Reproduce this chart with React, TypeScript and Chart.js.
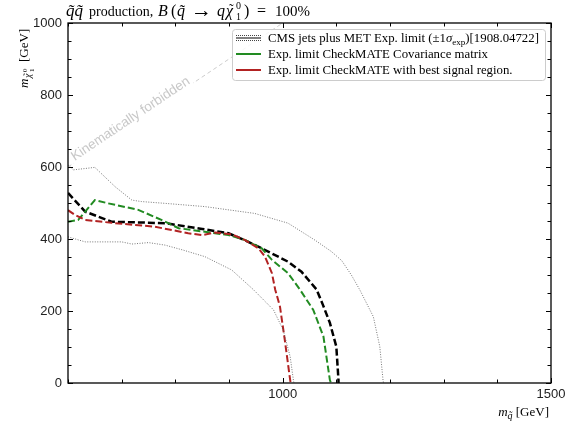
import React, { useEffect, useRef } from "react";
import { Chart, registerables } from "chart.js";

Chart.register(...registerables);

// ---- data (GeV) ----
const expX = [600, 632, 681, 781, 850, 899, 936, 961, 1010, 1035, 1063, 1075, 1088, 1100, 1104, 1104];
const expY = [528, 476, 448, 444, 428, 416, 392, 374, 337, 309, 260, 217, 167, 101, 8, 0];

const upX = [600, 610, 650, 688, 719, 737, 781, 855, 948, 1010, 1060, 1091, 1110, 1128, 1144, 1169, 1181, 1187, 1188];
const upY = [606, 592, 599, 545, 508, 504, 499, 490, 471, 444, 397, 365, 340, 300, 258, 184, 101, 8, 0];

const downX = [600, 632, 700, 719, 750, 781, 815, 855, 905, 945, 983, 1001, 1014, 1020, 1021];
const downY = [406, 392, 392, 386, 390, 383, 369, 351, 314, 260, 203, 147, 73, 8, 0];

const covX = [600, 619, 650, 675, 731, 774, 806, 855, 899, 930, 961, 980, 1010, 1032, 1057, 1076, 1088, 1090];
const covY = [448, 453, 508, 499, 481, 453, 430, 420, 411, 397, 374, 342, 305, 260, 203, 129, 8, 0];

const bestX = [600, 613, 632, 681, 762, 824, 850, 875, 905, 930, 955, 967, 980, 986, 995, 1004, 1014, 1015];
const bestY = [480, 467, 453, 445, 434, 416, 411, 418, 413, 397, 374, 351, 305, 260, 212, 119, 8, 0];

const kinX = [600, 1000];
const kinY = [600, 1000];

const xTickLabels = [1000, 1500];
const yTickLabels = [0, 200, 400, 600, 800, 1000];
const xMinorTicks = [600, 700, 800, 900, 1000, 1100, 1200, 1300, 1400, 1500];
const yMinorTicks = [0, 50, 100, 150, 200, 250, 300, 350, 400, 450, 500, 550, 600, 650, 700, 750, 800, 850, 900, 950, 1000];

const legendCms = "CMS jets plus MET Exp. limit (±1";
const legendCov = "Exp. limit CheckMATE Covariance matrix";
const legendBest = "Exp. limit CheckMATE with best signal region.";
const kinText = "Kinematically forbidden";

const SERIF = '"Liberation Serif", "Times New Roman", serif';
const SANS = '"Liberation Sans", Arial, sans-serif';

type Seg = { t: string; it?: boolean; size?: number; dy?: number; x?: number; noAdvance?: boolean };

function segWidth(ctx: CanvasRenderingContext2D, segs: Seg[], base: number) {
  let w = 0;
  for (const s of segs) {
    ctx.font = `${s.it ? "italic " : ""}${s.size ?? base}px ${SERIF}`;
    if (!s.noAdvance) w += ctx.measureText(s.t).width;
  }
  return w;
}

function drawSegs(ctx: CanvasRenderingContext2D, segs: Seg[], x: number, y: number, base: number) {
  let cx = x;
  for (const s of segs) {
    ctx.font = `${s.it ? "italic " : ""}${s.size ?? base}px ${SERIF}`;
    if (s.x !== undefined) cx = x + s.x;
    ctx.fillText(s.t, cx, y + (s.dy ?? 0));
    if (!s.noAdvance) cx += ctx.measureText(s.t).width;
  }
}

const pts = (xs: number[], ys: number[]) => xs.map((x, i) => ({ x, y: ys[i] }));

const decor = {
  id: "decor",
  afterDatasetsDraw(chart: any) {
    const { ctx, chartArea: a, scales } = chart;
    const xs = scales.x;
    const ys = scales.y;
    ctx.save();

    // Kinematically forbidden text along diagonal
    const x0 = xs.getPixelForValue(kinX[0]);
    const y0 = ys.getPixelForValue(kinY[0]);
    const x1 = xs.getPixelForValue(kinX[1]);
    const y1 = ys.getPixelForValue(kinY[1]);
    const ang = Math.atan2(y1 - y0, x1 - x0);
    const mid = 722;
    ctx.save();
    ctx.translate(xs.getPixelForValue(mid), ys.getPixelForValue(mid));
    ctx.rotate(ang);
    ctx.font = `13.5px ${SANS}`;
    const tw = ctx.measureText(kinText).width;
    ctx.fillStyle = "#ffffff";
    ctx.fillRect(-tw / 2 - 2, -13, tw + 4, 17);
    ctx.fillStyle = "#c8c8c8";
    ctx.textAlign = "center";
    ctx.textBaseline = "middle";
    ctx.fillText(kinText, 0, -5);
    ctx.restore();

    // frame
    ctx.strokeStyle = "#000";
    ctx.lineWidth = 1.3;
    ctx.strokeRect(a.left, a.top, a.right - a.left, a.bottom - a.top);

    // ticks (inward, all sides)
    ctx.lineWidth = 1;
    ctx.beginPath();
    for (const v of xMinorTicks) {
      const len = v % 500 === 0 ? 5 : 3.5;
      const px = Math.round(xs.getPixelForValue(v)) + 0.5;
      ctx.moveTo(px, a.bottom);
      ctx.lineTo(px, a.bottom - len);
      ctx.moveTo(px, a.top);
      ctx.lineTo(px, a.top + len);
    }
    for (const v of yMinorTicks) {
      const len = v % 200 === 0 ? 5 : 3.5;
      const py = Math.round(ys.getPixelForValue(v)) + 0.5;
      ctx.moveTo(a.left, py);
      ctx.lineTo(a.left + len, py);
      ctx.moveTo(a.right, py);
      ctx.lineTo(a.right - len, py);
    }
    ctx.stroke();

    // legend
    const lx = 232, ly = 29, lw = 313, lh = 51;
    ctx.beginPath();
    ctx.roundRect(lx + 0.5, ly + 0.5, lw, lh, 3);
    ctx.fillStyle = "rgba(255,255,255,0.85)";
    ctx.fill();
    ctx.strokeStyle = "#cccccc";
    ctx.lineWidth = 1;
    ctx.stroke();

    const rows = [38, 54, 70];
    const sx0 = 236, sx1 = 261;
    ctx.lineWidth = 1;
    ctx.strokeStyle = "#444";
    ctx.setLineDash([1, 1]);
    for (const dy of [-2.5, 2.5]) {
      ctx.beginPath();
      ctx.moveTo(sx0, rows[0] + dy);
      ctx.lineTo(sx1, rows[0] + dy);
      ctx.stroke();
    }
    ctx.setLineDash([]);
    ctx.strokeStyle = "#000";
    ctx.beginPath();
    ctx.moveTo(sx0, rows[0]);
    ctx.lineTo(sx1, rows[0]);
    ctx.stroke();
    ctx.lineWidth = 2;
    ctx.strokeStyle = "#228b22";
    ctx.beginPath();
    ctx.moveTo(sx0, rows[1]);
    ctx.lineTo(sx1, rows[1]);
    ctx.stroke();
    ctx.strokeStyle = "#b22222";
    ctx.beginPath();
    ctx.moveTo(sx0, rows[2]);
    ctx.lineTo(sx1, rows[2]);
    ctx.stroke();

    ctx.fillStyle = "#000";
    ctx.textAlign = "left";
    ctx.textBaseline = "alphabetic";
    const tx = 268;
    const base = 12.8;
    drawSegs(ctx, [
      { t: legendCms },
      { t: "σ", it: true },
      { t: "exp", size: 9, dy: 3 },
      { t: ")[1908.04722]" },
    ], tx, rows[0] + 4, base);
    drawSegs(ctx, [{ t: legendCov }], tx, rows[1] + 4, base);
    drawSegs(ctx, [{ t: legendBest }], tx, rows[2] + 4, base);

    // title
    drawSegs(ctx, [
      { t: "q̃q̃", it: true, size: 17, x: 1 },
      { t: "production,", x: 24 },
      { t: "B", it: true, size: 16, x: 93 },
      { t: "(", size: 16, x: 106 },
      { t: "q̃", it: true, size: 16, x: 112 },
      { t: "→", size: 21, x: 126, dy: 1 },
      { t: "q", it: true, size: 16, x: 152 },
      { t: "χ", it: true, size: 16, x: 161 },
      { t: "˜", size: 14, x: 164, dy: -2 },
      { t: "0", size: 10, dy: -7, x: 171 },
      { t: "1", size: 10, dy: 4, x: 171 },
      { t: ")", size: 16, x: 179 },
      { t: "=", size: 16, x: 192 },
      { t: "100%", size: 15, x: 210 },
    ], 65, 16, 14);

    // x label
    const xl: Seg[] = [
      { t: "m", it: true },
      { t: "q̃", it: true, size: 10, dy: 3 },
      { t: " [GeV]" },
    ];
    const xw = segWidth(ctx, xl, 13);
    drawSegs(ctx, xl, 549 - xw, 416, 13);

    // y label (rotated)
    ctx.save();
    ctx.translate(28, 88);
    ctx.rotate(-Math.PI / 2);
    drawSegs(ctx, [
      { t: "m", it: true, x: 0 },
      { t: "χ", it: true, size: 10, dy: 3, x: 10 },
      { t: "˜", size: 9, dy: 1, x: 12 },
      { t: "0", size: 7, dy: -1, x: 16 },
      { t: "1", size: 7, dy: 6, x: 16 },
      { t: "[GeV]", x: 26 },
    ], 0, 0, 13);
    ctx.restore();

    ctx.restore();
  },
};

export default function App() {
  const ref = useRef<HTMLCanvasElement>(null);
  useEffect(() => {
    const canvas = ref.current!;
    const line = (data: any, color: string, width: number, dash: number[]) => ({
      data,
      showLine: true,
      borderColor: color,
      backgroundColor: color,
      borderWidth: width,
      borderDash: dash,
      pointRadius: 0,
      pointHoverRadius: 0,
      fill: false,
      tension: 0,
    });
    const chart = new Chart(canvas, {
      type: "scatter",
      data: {
        datasets: [
          line(pts(kinX, kinY), "#cccccc", 1, [4, 3]),
          line(pts(upX, upY), "#555555", 0.8, [1, 1.5]),
          line(pts(downX, downY), "#555555", 0.8, [1, 1.5]),
          line(pts(bestX, bestY), "#b22222", 2, [7, 3]),
          line(pts(covX, covY), "#228b22", 2, [7, 3]),
          line(pts(expX, expY), "#000000", 2.5, [7, 3]),
        ],
      },
      options: {
        responsive: false,
        animation: false,
        events: [],
        layout: { padding: { top: 23, right: 19, left: 0, bottom: 0 } },
        plugins: {
          legend: { display: false },
          title: { display: false },
          tooltip: { enabled: false },
        },
        scales: {
          x: {
            type: "linear",
            min: 600,
            max: 1500,
            grid: { display: false, drawTicks: false },
            border: { display: false },
            ticks: {
              padding: 4,
              color: "#222",
              font: { family: SANS, size: 13 },
              maxRotation: 0,
              autoSkip: false,
              callback: (v: any) => String(v),
            },
            afterBuildTicks: (s: any) => {
              s.ticks = xTickLabels.map((v) => ({ value: v }));
            },
            afterFit: (s: any) => {
              s.height = 43;
            },
          },
          y: {
            type: "linear",
            min: 0,
            max: 1000,
            grid: { display: false, drawTicks: false },
            border: { display: false },
            ticks: {
              padding: 6,
              color: "#222",
              font: { family: SANS, size: 13 },
              autoSkip: false,
              callback: (v: any) => String(v),
            },
            afterBuildTicks: (s: any) => {
              s.ticks = yTickLabels.map((v) => ({ value: v }));
            },
            afterFit: (s: any) => {
              s.width = 68;
            },
          },
        },
      } as any,
      plugins: [decor],
    });
    return () => chart.destroy();
  }, []);
  return (
    <div style={{ position: "fixed", left: 0, top: 0, width: 570, height: 426, background: "#fff" }}>
      <canvas ref={ref} width={570} height={426} style={{ display: "block", width: 570, height: 426 }} />
    </div>
  );
}
